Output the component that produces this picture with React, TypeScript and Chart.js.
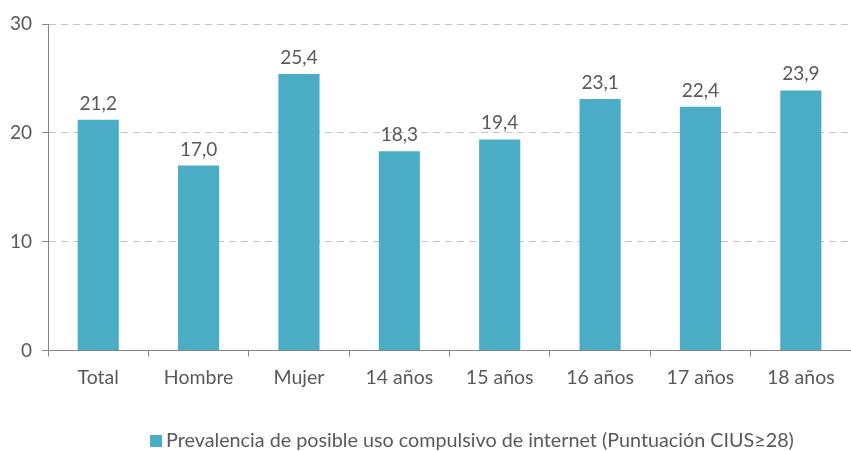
import React, { useEffect, useRef } from "react";
import { Chart, registerables } from "chart.js";

Chart.register(...registerables);

const categories = ["Total", "Hombre", "Mujer", "14 años", "15 años", "16 años", "17 años", "18 años"];
const prevalence = [21.2, 17.0, 25.4, 18.3, 19.4, 23.1, 22.4, 23.9];
const seriesLabel = "Prevalencia de posible uso compulsivo de internet (Puntuación CIUS≥28)";
const yTicks = [0, 10, 20, 30];

const BAR = "#4BACC6";
const TEXT = "#595959";
const AXIS = "#868686";
const FONT = "Lato";

const labelsPlugin = {
  id: "barLabels",
  afterDatasetsDraw(chart: any) {
    const ctx = chart.ctx;
    const meta = chart.getDatasetMeta(0);
    const data = chart.data.datasets[0].data as number[];
    ctx.save();
    ctx.fillStyle = TEXT;
    ctx.font = `19px ${FONT}`;
    ctx.textAlign = "center";
    ctx.textBaseline = "alphabetic";
    meta.data.forEach((bar: any, i: number) => {
      ctx.fillText(data[i].toFixed(1).replace(".", ","), bar.x, bar.y - 10);
    });
    ctx.restore();
  },
};

const legendPlugin = {
  id: "customLegend",
  afterDraw(chart: any) {
    const ctx = chart.ctx;
    const area = chart.chartArea;
    ctx.save();
    const y = chart.height - 10;
    const x = area.left + 102;
    ctx.fillStyle = BAR;
    ctx.fillRect(x, y - 6, 12, 12);
    ctx.fillStyle = TEXT;
    ctx.font = `19.75px ${FONT}`;
    ctx.textAlign = "left";
    ctx.textBaseline = "middle";
    ctx.fillText(chart.data.datasets[0].label, x + 16, y);
    ctx.restore();
  },
};

export default function App() {
  const ref = useRef<HTMLCanvasElement>(null);
  useEffect(() => {
    if (!ref.current) return;
    const chart = new Chart(ref.current, {
      type: "bar",
      data: {
        labels: categories,
        datasets: [
          {
            label: seriesLabel,
            data: prevalence,
            backgroundColor: BAR,
            barPercentage: 0.41,
            categoryPercentage: 1,
          },
        ],
      },
      options: {
        responsive: false,
        animation: false,
        layout: { padding: { left: 0, right: 0, top: 24, bottom: 53 } },
        plugins: { legend: { display: false }, tooltip: { enabled: false } },
        scales: {
          x: {
            grid: {
              offset: true,
              drawOnChartArea: false,
              tickLength: 6,
              tickColor: AXIS,
              color: AXIS,
            },
            border: { color: AXIS, width: 1 },
            ticks: { color: TEXT, font: { family: FONT, size: 19.5 }, padding: 9 },
          },
          y: {
            min: 0,
            max: 30,
            afterBuildTicks: (axis: any) => {
              axis.ticks = yTicks.map((v) => ({ value: v }));
            },
            grid: {
              color: "#C4C4C4",
              tickLength: 6,
              tickColor: AXIS,
              tickBorderDash: [],
            },
            border: { color: AXIS, width: 1, dash: [7, 5] },
            ticks: { color: TEXT, font: { family: FONT, size: 19 }, padding: 10 },
          },
        },
      },
      plugins: [labelsPlugin, legendPlugin],
    });
    return () => chart.destroy();
  }, []);
  return (
    <div style={{ position: "absolute", left: 0, top: 0, width: 851, height: 451, background: "#fff" }}>
      <canvas ref={ref} width={851} height={451} />
    </div>
  );
}
